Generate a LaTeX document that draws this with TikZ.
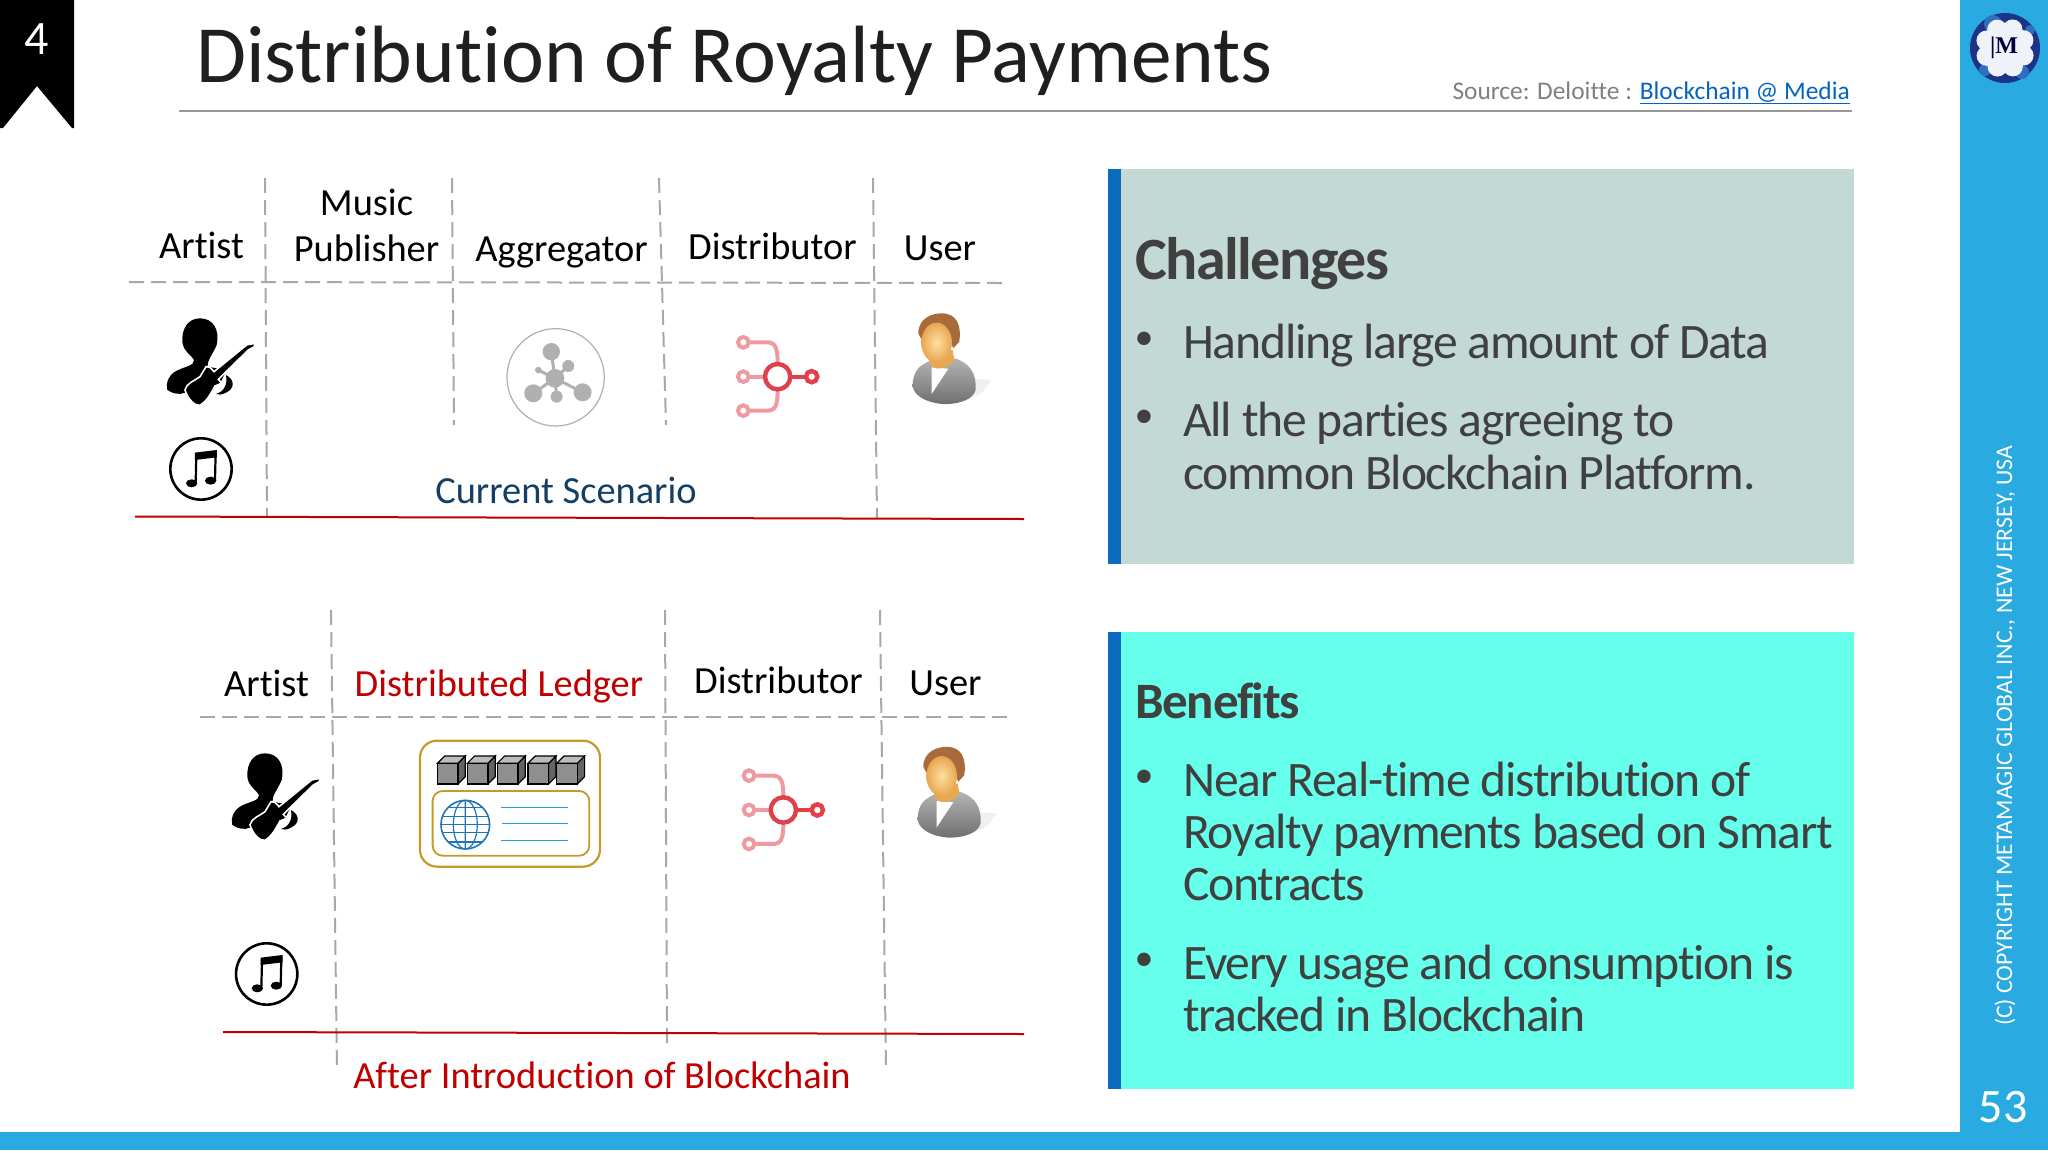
\documentclass[tikz,border=0pt]{standalone}
\usepackage{fontspec}
\setmainfont[Ligatures=NoCommon]{Carlito}
\newfontfamily\tightf[LetterSpace=-2.5,Ligatures=NoCommon]{Carlito}
\newfontfamily\logof{Liberation Serif}
\usetikzlibrary{calc}
\definecolor{barblue}{HTML}{29ABE2}
\definecolor{stripe}{HTML}{0B6BBE}
\definecolor{chalbg}{HTML}{C3D9D6}
\definecolor{benbg}{HTML}{66FFEB}
\definecolor{dashgray}{HTML}{A8A8A8}
\definecolor{redline}{HTML}{C00000}
\definecolor{scen}{HTML}{123F63}
\definecolor{bodyt}{HTML}{404040}
\definecolor{gold}{HTML}{C49A2C}
\definecolor{pinkc}{HTML}{EE9AA0}
\definecolor{redc}{HTML}{E0404A}
\definecolor{aggr}{HTML}{B0B0B0}
\definecolor{cube}{HTML}{8F8F8F}
\definecolor{globec}{HTML}{1F75B8}
\definecolor{linec}{HTML}{1CA6D8}
\definecolor{hairc}{HTML}{A86C3C}
\definecolor{facein}{HTML}{FFDFA0}
\definecolor{faceout}{HTML}{E8A652}
\definecolor{neckc}{HTML}{E8A850}
\definecolor{suittop}{HTML}{B4B4B4}
\definecolor{suitbot}{HTML}{6E6E6E}
\definecolor{logonavy}{HTML}{1C3488}
\definecolor{logoblue}{HTML}{2F6FC0}
\definecolor{logowhite}{HTML}{F0F2FA}
\tikzset{
  lab/.style={anchor=base,inner sep=0pt,font=\fontsize{38.4}{38.4}\selectfont,text=black},
  redlab/.style={lab,text=redline},
  bodyl/.style={anchor=base west,inner sep=0pt,text=bodyt,font=\fontsize{49.6}{49.6}\tightf},
  bull/.style={inner sep=0pt,text=bodyt,font=\fontsize{38}{38}\selectfont},
  headl/.style={anchor=base west,inner sep=0pt,text=bodyt,font=\fontsize{60}{60}\tightf\bfseries},
  griddash/.style={draw=dashgray,line width=2pt,dash pattern=on 15pt off 7pt},
  redrule/.style={draw=redline,line width=2pt},
}
\newcommand{\guitarist}[2]{\begin{scope}[shift={(#1,#2)},x=.3333pt,y=-.3333pt]
 \fill[black] (240,445) .. controls (205,445) and (185,475) .. (187,515) .. controls (190,545) and (215,555) .. (222,570) .. controls (225,588) and (190,590) .. (165,605) .. controls (145,618) and (136,640) .. (142,660) .. controls (160,672) and (178,675) .. (195,668) -- (300,640) -- (320,600) -- (262,590) .. controls (262,570) and (280,550) .. (290,525) .. controls (300,480) and (280,445) .. (240,445) -- cycle;
 \fill[black] (318,615) .. controls (345,630) and (345,655) .. (318,668) .. controls (305,675) and (295,675) .. (288,672) .. controls (305,668) and (325,650) .. (318,615) -- cycle;
 \filldraw[fill=black,draw=white,line width=1.6pt] (195,660) .. controls (198,640) and (225,632) .. (240,620) -- (258,590) -- (270,592) -- (282,605) -- (380,525) -- (405,520) -- (403,530) -- (385,540) -- (295,628) -- (305,640) -- (285,648) .. controls (275,665) and (265,690) .. (240,706) .. controls (225,708) and (205,690) .. (195,660) -- cycle;
\end{scope}}
\newcommand{\itunes}[2]{\begin{scope}[shift={(#1,#2)},x=.3333pt,y=-.3333pt]
 \draw[black,line width=2.6pt] (243,897) circle [radius=92];
 \fill[black] (215,940) ellipse [x radius=17,y radius=12];
 \fill[black] (272,932) ellipse [x radius=17,y radius=12];
 \draw[black,line width=2.2pt] (227,938) -- (229,855);
 \draw[black,line width=2.2pt] (285,930) -- (287,848);
 \fill[black] (225,848) -- (291,840) -- (291,862) -- (225,870) -- cycle;
\end{scope}}
\newcommand{\distico}[2]{\begin{scope}[shift={(#1,#2)},x=.3333pt,y=-.3333pt]
 \draw[pinkc,line width=4pt] (386,517) -- (440,517) .. controls (465,517) and (473,530) .. (473,580);
 \draw[pinkc,line width=4pt] (386,722) -- (440,722) .. controls (465,722) and (473,710) .. (473,660);
 \draw[pinkc,line width=4pt] (386,620) -- (436,620);
 \draw[pinkc,line width=4pt] (370,517) circle [radius=16];
 \draw[pinkc,line width=4pt] (370,620) circle [radius=16];
 \draw[pinkc,line width=4pt] (370,722) circle [radius=16];
 \draw[redc,line width=4pt] (510,620) -- (558,620);
 \draw[redc,line width=4.4pt] (473,620) circle [radius=38];
 \draw[redc,line width=4.4pt] (575,620) circle [radius=17];
\end{scope}}
\newcommand{\personico}[2]{\begin{scope}[shift={(#1,#2)},x=.3333pt,y=-.3333pt]
 \fill[gray!12] (1040,625) -- (1115,630) -- (1085,670) -- (1040,690) -- cycle;
 \shade[top color=suittop,bottom color=suitbot] (878,650) .. controls (878,600) and (900,585) .. (935,570) -- (1005,565) .. controls (1050,580) and (1070,610) .. (1067,660) .. controls (1060,690) and (1010,705) .. (965,702) .. controls (920,697) and (885,680) .. (878,650) -- cycle;
 \fill[white] (935,592) -- (985,596) -- (935,672) -- cycle;
 \fill[neckc] (925,555) -- (930,585) .. controls (950,605) and (985,595) .. (1003,570) -- (998,540) -- cycle;
 \fill[hairc] (895,490) .. controls (895,445) and (935,430) .. (965,430) .. controls (1010,430) and (1025,465) .. (1018,515) -- (1000,535) -- (985,500) -- (905,510) -- cycle;
 \shade[inner color=facein,outer color=faceout] (950,518) ellipse [x radius=46,y radius=60];
\end{scope}}
\newcommand{\aggico}{\begin{scope}[shift={(120,170)},x=.3333pt,y=-.3333pt]
 \draw[aggr,line width=1.2pt] (1307,622) circle [radius=146];
 \draw[aggr,line width=3pt] (1294,545) -- (1305,625) (1345,588) -- (1305,625) (1255,600) -- (1305,625) (1240,670) -- (1305,625) (1388,667) -- (1305,625) (1310,680) -- (1305,625);
 \fill[aggr] (1305,625) circle [radius=28] (1294,545) circle [radius=26] (1345,588) circle [radius=18] (1255,600) circle [radius=10] (1240,670) circle [radius=27] (1388,667) circle [radius=27] (1310,680) circle [radius=18];
\end{scope}}
\newcommand{\ledgerico}{\begin{scope}[shift={(200,700)},x=.3333pt,y=-.3333pt]
 \draw[gold,line width=2.2pt,rounded corners=17pt] (660,122) rectangle (1200,500);
 \draw[gold,line width=1.8pt,rounded corners=10pt] (698,273) rectangle (1168,467);
 \foreach \cx in {712,802,892,984,1070}{
  \filldraw[fill=cube!70!black,draw=black,line width=1.2pt] (\cx+62,190) -- (\cx+84,168) -- (\cx+84,230) -- (\cx+62,252) -- cycle;
  \filldraw[fill=cube!60!white,draw=black,line width=1.2pt] (\cx,190) -- (\cx+22,168) -- (\cx+84,168) -- (\cx+62,190) -- cycle;
  \filldraw[fill=cube,draw=black,line width=1.4pt] (\cx,190) rectangle (\cx+62,252);
 }
 \draw[globec,line width=1.6pt] (796,374) circle [radius=73];
 \draw[globec,line width=1.2pt] (796,301) -- (796,447) (796,374) ellipse [x radius=36,y radius=73];
 \draw[globec,line width=1.2pt] (725,350) -- (867,350) (723,374) -- (869,374) (727,398) -- (865,398) (745,322) -- (847,322) (745,426) -- (847,426);
 \draw[linec,line width=1.5pt] (903,323) -- (1103,323) (906,370) -- (1103,370) (903,422) -- (1103,422);
\end{scope}}
\begin{document}
\begin{tikzpicture}[x=1pt,y=-1pt]
\useasboundingbox (0,0) rectangle (2048,1152);
\fill[white] (0,0) rectangle (2048,1152);
% frame
\fill[barblue] (1960,0) rectangle (2048,1150);
\fill[barblue] (0,1132) rectangle (2048,1150);
\fill[black] (0,0) -- (74,0) -- (74,128) -- (72,128) -- (37,86) -- (3,128) -- (0,128) -- cycle;
\node[inner sep=0pt,text=white,font=\fontsize{48}{48}\selectfont] (num) at (37,39) {4};
\node[anchor=base west,inner sep=0pt,font=\fontsize{81.3}{81.3}\selectfont,text=black!88] (title) at (196,82) {Distribution of Royalty Payments};
\draw[gray!80,line width=1.2pt] (179,111) -- (1852,111);
\node[anchor=base east,inner sep=0pt,font=\fontsize{25.4}{25.4}\selectfont,text=gray] (src) at (1850,99) {Source: Deloitte : \textcolor[HTML]{0563C1}{\underline{Blockchain @ Media}}};
% logo
\fill[logonavy] (2005,48) circle [radius=35];
\fill[logoblue] (1993,24) circle [radius=9] (2030,30) circle [radius=5] (1985,70) circle [radius=6] (2022,72) circle [radius=7];
\foreach \a in {0,45,...,315}{\fill[logowhite] (2005,48) ++(\a+22:20) circle [radius=10];}
\fill[logowhite] (2005,48) circle [radius=22];
\node[inner sep=0pt,font=\fontsize{24}{24}\logof\bfseries,text=black!75!blue] (logom) at (2004,48) {|M};
\node[rotate=90,inner sep=0pt,text=white,font=\fontsize{23.8}{23.8}\selectfont] (copy) at (2005,736) {(C) COPYRIGHT METAMAGIC GLOBAL INC., NEW JERSEY, USA};
\node[inner sep=0pt,text=white,font=\fontsize{48}{48}\selectfont] (page) at (2003,1107) {53};
% boxes
\fill[chalbg] (1108,169) rectangle (1854,564);
\fill[stripe] (1108,169) rectangle (1121,564);
\fill[benbg] (1108,632) rectangle (1854,1089);
\fill[stripe] (1108,632) rectangle (1121,1089);
\node[headl] (ch) at (1135,279) {Challenges};
\node[bull] (b1) at (1144,341) {•};
\node[bodyl] (c1) at (1183,358) {Handling large amount of Data};
\node[bull] (b2) at (1144,419) {•};
\node[bodyl] (c2) at (1183,436) {All the parties agreeing to};
\node[bodyl] (c3) at (1183,489) {common Blockchain Platform.};
\node[headl,font=\fontsize{51}{51}\tightf\bfseries] (be) at (1135,718) {Benefits};
\node[bull] (b3) at (1144,779) {•};
\node[bodyl] (d1) at (1183,796) {Near Real-time distribution of};
\node[bodyl] (d2) at (1183,848) {Royalty payments based on Smart};
\node[bodyl] (d3) at (1183,900) {Contracts};
\node[bull] (b4) at (1144,962) {•};
\node[bodyl] (d4) at (1183,979) {Every usage and consumption is};
\node[bodyl] (d5) at (1183,1031) {tracked in Blockchain};
% table 1
\draw[griddash] (129,282) -- (1004,283);
\draw[griddash] (265,178) -- (267,518);
\draw[griddash] (452,178) -- (454,425);
\draw[griddash] (659,178) -- (666,425);
\draw[griddash] (873,178) -- (877,518);
\draw[redrule] (135,516.5) -- (1024,519);
\node[lab] (t1a) at (201.5,258) {Artist};
\node[lab] (t1m) at (366.5,215.5) {Music};
\node[lab] (t1p) at (366.5,261) {Publisher};
\node[lab] (t1g) at (561.5,261) {Aggregator};
\node[lab] (t1d) at (772.5,259) {Distributor};
\node[lab] (t1u) at (940,260) {User};
\node[lab,text=scen] (t1s) at (566,503) {Current Scenario};
\guitarist{120}{170}
\itunes{120}{170}
\aggico
\distico{620}{170}
\personico{620}{170}
% table 2
\draw[griddash] (200,717) -- (1007,717);
\draw[griddash] (331,610) -- (337,1071);
\draw[griddash] (665,610) -- (667,1045);
\draw[griddash] (880,610) -- (886,1071);
\draw[redrule] (223,1032) -- (1024,1034);
\node[lab] (t2a) at (266.5,696) {Artist};
\node[redlab] (t2l) at (499,696) {Distributed Ledger};
\node[lab] (t2d) at (778.5,693) {Distributor};
\node[lab] (t2u) at (945.5,695) {User};
\node[redlab] (t2s) at (602,1088) {After Introduction of Blockchain};
\guitarist{185}{605}
\itunes{185.7}{675}
\ledgerico
\distico{625.7}{603.3}
\personico{625}{603.5}
\end{tikzpicture}
\end{document}
